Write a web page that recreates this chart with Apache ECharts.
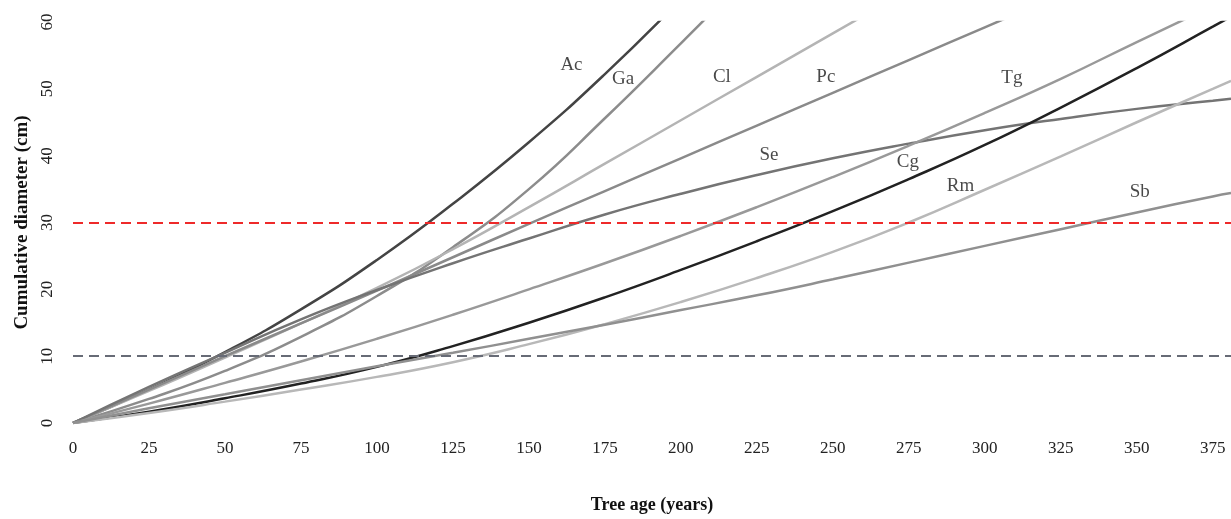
<!DOCTYPE html>
<html>
<head>
<meta charset="utf-8">
<script src="https://cdn.jsdelivr.net/npm/echarts@6/dist/echarts.min.js"></script>
<style>
html,body{margin:0;padding:0;background:#fff;overflow:hidden;}
#c{width:1231px;height:519px;}
</style>
</head>
<body>
<div id="c"></div>
<script>
// Tree age (years) sample positions
const ages = [0, 25, 50, 75, 100, 125, 150, 175, 200, 225, 250, 275, 300, 325, 350, 375, 381];

// Cumulative diameter (cm) per species, at the ages above (lines past 60 are clipped)
const Ac = [0, 5.0, 10.6, 17.0, 24.4, 32.8, 42.0, 52.2, 63.4];
const Ga = [0, 3.6, 7.8, 12.9, 19.0, 26.3, 35.0, 45.6, 56.8, 68.2];
const Cl = [0, 4.8, 9.8, 14.9, 20.2, 26.0, 32.3, 38.8, 45.3, 51.8, 58.3, 64.8];
const Pc = [0, 5.0, 10.0, 14.9, 19.8, 24.8, 29.8, 34.7, 39.6, 44.5, 49.4, 54.3, 59.2, 64.1];
const Se = [0, 5.4, 10.5, 15.5, 19.9, 23.9, 27.6, 31.2, 34.3, 37.1, 39.6, 41.8, 43.8, 45.5, 47.0, 48.2, 48.5];
const Tg = [0, 2.9, 6.0, 9.2, 12.6, 16.2, 20.0, 23.9, 28.0, 32.3, 36.8, 41.5, 46.4, 51.5, 57.0, 62.4];
const Cg = [0, 1.7, 3.7, 5.9, 8.4, 11.5, 15.0, 18.8, 22.9, 27.2, 31.7, 36.5, 41.6, 47.2, 53.1, 59.3, 60.8];
const Rm = [0, 1.5, 3.2, 5.0, 6.9, 9.1, 11.8, 14.8, 18.1, 21.7, 25.6, 30.0, 34.9, 39.9, 45.0, 50.0, 51.2];
const Sb = [0, 2.2, 4.3, 6.4, 8.5, 10.5, 12.6, 14.7, 16.9, 19.1, 21.5, 24.0, 26.5, 29.0, 31.5, 33.9, 34.4];

const speciesNames = ['Ac', 'Ga', 'Cl', 'Pc', 'Se', 'Tg', 'Cg', 'Rm', 'Sb'];
const speciesValues = [Ac, Ga, Cl, Pc, Se, Tg, Cg, Rm, Sb];
const speciesColors = ['#444444', '#8c8c8c', '#b4b4b4', '#8a8a8a', '#747474', '#999999', '#222222', '#b8b8b8', '#909090'];

// Curve labels (position in data units)
const labelX = [164, 181, 213.5, 247.7, 308.9, 229, 274.7, 292, 351];
const labelY = [53.5, 51.5, 51.8, 51.8, 51.6, 40.1, 39.0, 35.4, 34.5];
const labelText = ['Ac', 'Ga', 'Cl', 'Pc', 'Tg', 'Se', 'Cg', 'Rm', 'Sb'];

// Reference thresholds
const thresholdRed = 30;
const thresholdGray = 10;

const xTicks = { min: 0, max: 381, interval: 25 };
const yTicks = { min: 0, max: 60, interval: 10 };

const font = '"Liberation Serif", "Times New Roman", serif';

const series = speciesNames.map((n, i) => ({
  name: n,
  type: 'line',
  smooth: true,
  symbol: 'none',
  clip: true,
  lineStyle: { color: speciesColors[i], width: 2.5 },
  data: speciesValues[i].map((v, k) => [ages[k], v]),
  z: 3
}));

series.push({
  name: 'thresholds',
  type: 'line',
  data: [],
  markLine: {
    silent: true,
    symbol: 'none',
    label: { show: false },
    data: [
      { yAxis: thresholdRed, lineStyle: { color: '#ee2a2a', width: 2.2, type: [10, 6] } },
      { yAxis: thresholdGray, lineStyle: { color: '#676b76', width: 2.2, type: [10, 6] } }
    ]
  },
  z: 2
});

series.push({
  name: 'labels',
  type: 'scatter',
  symbolSize: 0,
  silent: true,
  data: labelX.map((x, i) => ({ value: [x, labelY[i]], name: labelText[i] })),
  label: {
    show: true,
    position: 'inside',
    formatter: p => p.name,
    fontFamily: font,
    fontSize: 19,
    color: '#1a1a1a'
  },
  z: 5
});

const chart = echarts.init(document.getElementById('c'), null, { renderer: 'canvas' });
chart.setOption({
  animation: false,
  backgroundColor: '#ffffff',
  grid: { left: 73, right: 0, top: 22, bottom: 92, containLabel: false },
  xAxis: {
    type: 'value',
    min: xTicks.min, max: xTicks.max, interval: xTicks.interval,
    name: 'Tree age (years)',
    nameLocation: 'middle',
    nameGap: 73,
    nameTextStyle: { fontFamily: font, fontSize: 18, fontWeight: 'bold', color: '#111' },
    axisLine: { show: false },
    axisTick: { show: false },
    splitLine: { show: false },
    axisLabel: { fontFamily: font, fontSize: 17, color: '#222', margin: 17, showMaxLabel: false }
  },
  yAxis: {
    type: 'value',
    min: yTicks.min, max: yTicks.max, interval: yTicks.interval,
    name: 'Cumulative diameter (cm)',
    nameLocation: 'middle',
    nameGap: 40,
    nameTextStyle: { fontFamily: font, fontSize: 19, fontWeight: 'bold', color: '#111' },
    axisLine: { show: false },
    axisTick: { show: false },
    splitLine: { show: false },
    axisLabel: { fontFamily: font, fontSize: 17, color: '#222', margin: 17, rotate: 90 }
  },
  series: series
});
</script>
</body>
</html>
